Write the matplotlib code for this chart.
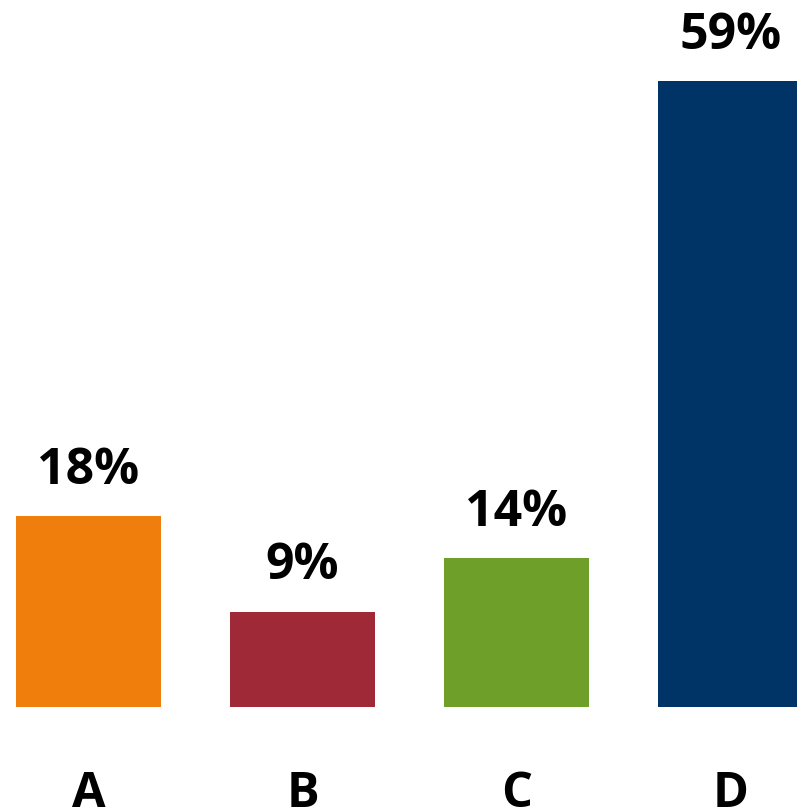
import matplotlib.pyplot as plt

categories = ['A', 'B', 'C', 'D']
values = [18, 9, 14, 59]
colors = ['#F07E0D', '#A02938', '#6E9F28', '#003366']

fig = plt.figure(figsize=(7.97, 8.12), dpi=100)
ax = fig.add_axes([0, 0, 1, 1])

x = range(len(categories))
bars = ax.bar(x, values, width=0.68, color=colors)

# percent labels above each bar
for xi, v in zip(x, values):
    ax.annotate(f'{v}%', (xi, v), xytext=(0, 24), textcoords='offset points',
                ha='center', va='baseline', fontsize=36, fontweight='bold',
                family=['Open Sans', 'DejaVu Sans'])

# category labels below the baseline
for xi, c in zip(x, categories):
    ax.text(xi, -9.30, c, ha='center', va='baseline', fontsize=35,
            fontweight='bold', family=['Open Sans', 'DejaVu Sans'])

ax.set_xlim(-0.4136, 3.3107)
ax.set_ylim(-9.80, 66.73)
ax.axis('off')

fig.savefig('out.png', dpi=100)
